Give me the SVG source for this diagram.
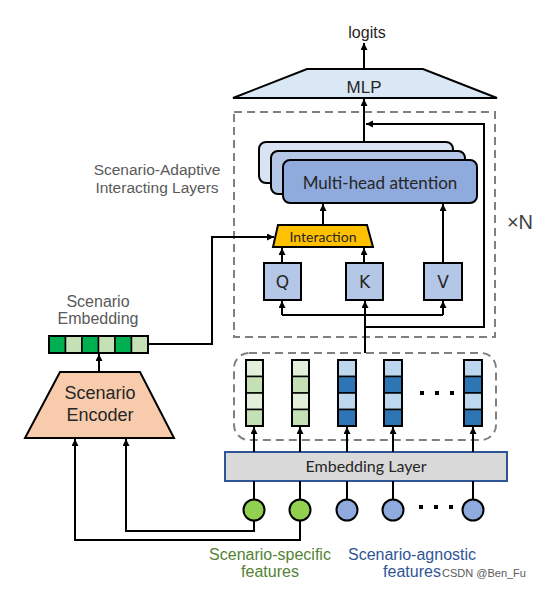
<svg xmlns="http://www.w3.org/2000/svg" width="539" height="589" viewBox="0 0 539 589">
<defs>
<marker id="ah" markerUnits="userSpaceOnUse" markerWidth="8" markerHeight="8" refX="7" refY="3.5" orient="auto"><path d="M0,0 L7,3.5 L0,7 z" fill="#000"/></marker>
<style>
.ln{fill:none;stroke:#000;stroke-width:2}
.ar{fill:none;stroke:#000;stroke-width:2;marker-end:url(#ah)}
.dash{fill:none;stroke:#808080;stroke-width:2;stroke-dasharray:8 5}
.box{stroke:#000;stroke-width:2}
.ar-t{font-family:"Liberation Sans",Arial,sans-serif;text-anchor:middle}
.ca-t{font-family:Lato,"Open Sans",sans-serif;text-anchor:middle;fill:#262626}
.dv-t{font-family:"DejaVu Sans",sans-serif;text-anchor:middle;fill:#262626}
.gc{fill:#92d050;stroke:#000;stroke-width:2}
.bc{fill:#8faadc;stroke:#000;stroke-width:2}
.c1{fill:#e2efda}.c2{fill:#c5e0b4}.c3{fill:#bdd7ee}.c4{fill:#2e75b6}
.cell{stroke:#000;stroke-width:1.5}
</style>
</defs>
<rect width="539" height="589" fill="#fff"/>

<g id="logits"><text x="367" y="38" class="ar-t" font-size="16" fill="#262626">logits</text></g>

<g id="mlp">
<path d="M307 69 H423 L497 98 H233 Z" fill="#dae8f6" stroke="#000" stroke-width="2"/>
<text x="364" y="93" class="ar-t" font-size="17" fill="#262626">MLP</text>
</g>

<g id="sail-box">
<rect x="234" y="112" width="261" height="225" class="dash"/>
<text x="157" y="175" class="ar-t" font-size="15.5" fill="#595959">Scenario-Adaptive</text>
<text x="157" y="193" class="ar-t" font-size="15.5" fill="#595959">Interacting Layers</text>
<text x="520" y="229" class="ar-t" font-size="20" fill="#404040">×N</text>
</g>

<g id="mha">
<rect x="259" y="142" width="194" height="41" rx="7" fill="#dae3f3" class="box"/>
<rect x="271" y="151" width="194" height="43" rx="7" fill="#b4c7e7" class="box"/>
<rect x="283" y="160" width="194" height="43" rx="7" fill="#8faadc" class="box"/>
<text x="380" y="189" class="ca-t" font-size="17">Multi-head attention</text>
</g>

<g id="interaction">
<path d="M278 225 H367 L373 247 H273 Z" fill="#ffc000" stroke="#000" stroke-width="2"/>
<text x="323" y="242" class="ca-t" font-size="14">Interaction</text>
</g>

<g id="q"><rect x="264" y="263" width="37" height="37" fill="#b4c7e7" class="box"/><text x="282.5" y="288" class="dv-t" font-size="17">Q</text></g>
<g id="k"><rect x="346" y="263" width="37" height="37" fill="#b4c7e7" class="box"/><text x="364.5" y="288" class="dv-t" font-size="17">K</text></g>
<g id="v"><rect x="424" y="263" width="38" height="37" fill="#b4c7e7" class="box"/><text x="443" y="288" class="dv-t" font-size="17">V</text></g>

<g id="scenario-embedding">
<text x="98" y="307" class="ar-t" font-size="16" fill="#595959">Scenario</text>
<text x="98" y="324" class="ar-t" font-size="16" fill="#595959">Embedding</text>
<rect x="49" y="336" width="16.5" height="17" fill="#00b050" class="cell"/>
<rect x="65.5" y="336" width="16.5" height="17" fill="#c5e0b4" class="cell"/>
<rect x="82" y="336" width="16.5" height="17" fill="#00b050" class="cell"/>
<rect x="98.5" y="336" width="16.5" height="17" fill="#c5e0b4" class="cell"/>
<rect x="115" y="336" width="16.5" height="17" fill="#00b050" class="cell"/>
<rect x="131.5" y="336" width="16.5" height="17" fill="#c5e0b4" class="cell"/>
<rect x="49" y="336" width="99" height="17" fill="none" stroke="#000" stroke-width="2"/>
</g>

<g id="scenario-encoder">
<path d="M60 372 H140 L174 438 H25 Z" fill="#f8cbad" stroke="#000" stroke-width="2"/>
<text x="100" y="399" class="ar-t" font-size="18" fill="#262626">Scenario</text>
<text x="100" y="421" class="ar-t" font-size="18" fill="#262626">Encoder</text>
</g>

<g id="feature-vectors">
<rect x="234" y="353" width="262" height="87" rx="15" class="dash"/>
<g>
<rect x="246" y="360" width="17" height="16.5" class="c1 cell"/><rect x="246" y="376.5" width="17" height="16.5" class="c2 cell"/><rect x="246" y="393" width="17" height="16.5" class="c1 cell"/><rect x="246" y="409.5" width="17" height="16.5" class="c2 cell"/>
<rect x="246" y="360" width="17" height="66" fill="none" stroke="#000" stroke-width="2"/>
</g>
<g>
<rect x="292" y="360" width="17" height="16.5" class="c1 cell"/><rect x="292" y="376.5" width="17" height="16.5" class="c2 cell"/><rect x="292" y="393" width="17" height="16.5" class="c1 cell"/><rect x="292" y="409.5" width="17" height="16.5" class="c2 cell"/>
<rect x="292" y="360" width="17" height="66" fill="none" stroke="#000" stroke-width="2"/>
</g>
<g>
<rect x="338" y="360" width="18" height="16.5" class="c3 cell"/><rect x="338" y="376.5" width="18" height="16.5" class="c4 cell"/><rect x="338" y="393" width="18" height="16.5" class="c3 cell"/><rect x="338" y="409.5" width="18" height="16.5" class="c4 cell"/>
<rect x="338" y="360" width="18" height="66" fill="none" stroke="#000" stroke-width="2"/>
</g>
<g>
<rect x="384" y="360" width="18" height="16.5" class="c3 cell"/><rect x="384" y="376.5" width="18" height="16.5" class="c4 cell"/><rect x="384" y="393" width="18" height="16.5" class="c3 cell"/><rect x="384" y="409.5" width="18" height="16.5" class="c4 cell"/>
<rect x="384" y="360" width="18" height="66" fill="none" stroke="#000" stroke-width="2"/>
</g>
<g>
<rect x="464" y="360" width="18" height="16.5" class="c3 cell"/><rect x="464" y="376.5" width="18" height="16.5" class="c4 cell"/><rect x="464" y="393" width="18" height="16.5" class="c3 cell"/><rect x="464" y="409.5" width="18" height="16.5" class="c4 cell"/>
<rect x="464" y="360" width="18" height="66" fill="none" stroke="#000" stroke-width="2"/>
</g>
<rect x="420" y="391" width="4" height="4" fill="#000"/><rect x="435" y="391" width="4" height="4" fill="#000"/><rect x="450" y="391" width="4" height="4" fill="#000"/>
</g>

<g id="embedding-layer">
<rect x="225" y="452" width="282" height="29" fill="#d9d9d9" stroke="#2f5597" stroke-width="2"/>
<text x="366" y="472" class="ca-t" font-size="16">Embedding Layer</text>
</g>

<g id="features">
<circle cx="254" cy="510" r="10.5" class="gc"/>
<circle cx="300" cy="510" r="10.5" class="gc"/>
<circle cx="347" cy="510" r="10.5" class="bc"/>
<circle cx="393" cy="510" r="10.5" class="bc"/>
<circle cx="473" cy="510" r="10.5" class="bc"/>
<rect x="419" y="505" width="4" height="4" fill="#000"/><rect x="434" y="505" width="4" height="4" fill="#000"/><rect x="449" y="505" width="4" height="4" fill="#000"/>
<text x="270" y="560" class="ar-t" font-size="16" fill="#548235">Scenario-specific</text>
<text x="270" y="577" class="ar-t" font-size="16" fill="#548235">features</text>
<text x="412" y="560" class="ar-t" font-size="16" fill="#2f5597">Scenario-agnostic</text>
<text x="412" y="577" class="ar-t" font-size="16" fill="#2f5597">features</text>
<text x="484" y="577" class="ar-t" font-size="11" fill="#595959">CSDN @Ben_Fu</text>
</g>

<g id="connectors">
<path d="M364 69 V43" class="ar"/>
<path d="M364 142 V99" class="ar"/>
<path d="M365 327 H484 V124 H366" class="ar"/>
<path d="M365 353 V315" class="ln"/>
<path d="M282 315 H443" class="ln"/>
<path d="M282 315 V301" class="ar"/>
<path d="M365 315 V301" class="ar"/>
<path d="M443 315 V301" class="ar"/>
<path d="M282 263 V248" class="ar"/>
<path d="M364 263 V248" class="ar"/>
<path d="M323 225 V204" class="ar"/>
<path d="M443 263 V204" class="ar"/>
<path d="M148 344 H212 V237 H274" class="ar"/>
<path d="M99 372 V354" class="ar"/>
<path d="M254 521 V531 H126 V439" class="ar"/>
<path d="M300 521 V540 H75 V439" class="ar"/>
<path d="M254 499 V481 M300 499 V481 M347 499 V481 M393 499 V481 M473 499 V481" class="ln"/>
<path d="M254 452 V427" class="ar"/>
<path d="M300 452 V427" class="ar"/>
<path d="M347 452 V427" class="ar"/>
<path d="M393 452 V427" class="ar"/>
<path d="M473 452 V427" class="ar"/>
</g>
</svg>
